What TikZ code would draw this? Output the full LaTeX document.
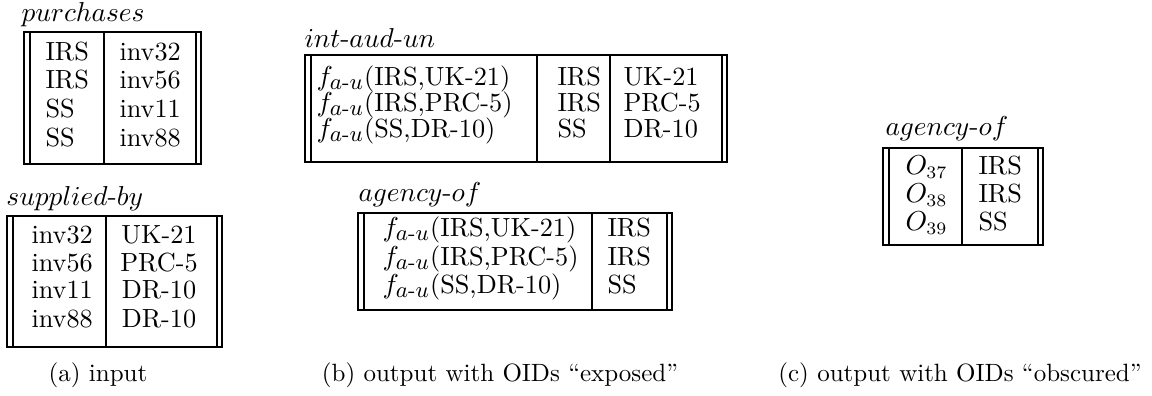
\documentclass[tikz,border=0pt]{standalone}
\usepackage{amsmath}
\tikzset{
  rel/.style={line width=0.8pt},
  cell/.style={anchor=base west, inner sep=0pt, font=\fontsize{10.5}{13}\selectfont},
  relname/.style={anchor=base west, inner sep=0pt, font=\fontsize{11.3}{13}\selectfont},
  caption/.style={anchor=base, inner sep=0pt, font=\fontsize{10}{12}\selectfont},
}
% frame of a relation: outer box with doubled left and right borders
% #1 left, #2 right, #3 top, #4 bottom
\newcommand{\relframe}[4]{%
  \draw[rel] (#1,#3) rectangle (#2,#4);
  \draw[rel] ({#1+6},#3) -- ({#1+6},#4) ({#2-5},#3) -- ({#2-5},#4);}
% the OID-building function f_{a-u}
\newcommand{\fau}{$f_{\mbox{\fontsize{8.6}{9}\selectfont$a$-$u$}}$}
\begin{document}
\begin{tikzpicture}[x=0.4pt,y=-0.4pt]
\useasboundingbox (0,0) rectangle (1152,395);

% ---------- (a) input ----------
\node[relname] (purName) at (21,21) {$purchases$};
\relframe{24}{201}{32}{164}
\draw[rel] (104,32) -- (104,164);
\node[cell] (p11) at (45,60)  {IRS};
\node[cell] (p21) at (45,88)  {IRS};
\node[cell] (p31) at (45,117) {SS};
\node[cell] (p41) at (45,146) {SS};
\node[cell] (p12) at (119,60)  {inv32};
\node[cell] (p22) at (119,88)  {inv56};
\node[cell] (p32) at (119,117) {inv11};
\node[cell] (p42) at (119,146) {inv88};

\node[relname] (supName) at (6,205) {$supplied\text{-}by$};
\relframe{7}{222}{216}{347}
\draw[rel] (106,216) -- (106,347);
\node[cell] (s11) at (31,243) {inv32};
\node[cell] (s21) at (31,271) {inv56};
\node[cell] (s31) at (31,298) {inv11};
\node[cell] (s41) at (31,327) {inv88};
\node[cell, anchor=base] (s12) at (159,243) {UK-21};
\node[cell, anchor=base] (s22) at (159,271) {PRC-5};
\node[cell, anchor=base] (s32) at (159,298) {DR-10};
\node[cell, anchor=base] (s42) at (159,327) {DR-10};

\node[caption] (capA) at (98,381) {(a) input};

% ---------- (b) output with exposed OIDs ----------
\node[relname] (iauName) at (304,47) {$int\text{-}aud\text{-}un$};
\relframe{305}{727}{55}{162}
\draw[rel] (537,55) -- (537,162) (610,55) -- (610,162);
\node[cell] (i11) at (316,85)    {\fau(IRS,UK-21)};
\node[cell] (i21) at (316,111.5) {\fau(IRS,PRC-5)};
\node[cell] (i31) at (316,137)   {\fau(SS,DR-10)};
\node[cell] (i12) at (557,85)    {IRS};
\node[cell] (i22) at (557,111.5) {IRS};
\node[cell] (i32) at (557,137)   {SS};
\node[cell] (i13) at (623,85)    {UK-21};
\node[cell] (i23) at (623,111.5) {PRC-5};
\node[cell] (i33) at (623,137)   {DR-10};

\node[relname] (agbName) at (358,201) {$agency\text{-}of$};
\relframe{358}{672}{213}{310}
\draw[rel] (592,213) -- (592,310);
\node[cell] (b11) at (382,236) {\fau(IRS,UK-21)};
\node[cell] (b21) at (382,265) {\fau(IRS,PRC-5)};
\node[cell] (b31) at (382,293) {\fau(SS,DR-10)};
\node[cell] (b12) at (607,236) {IRS};
\node[cell] (b22) at (607,265) {IRS};
\node[cell] (b32) at (607,293) {SS};

\node[caption] (capB) at (500,381) {(b) output with OIDs ``exposed''};

% ---------- (c) output with obscured OIDs ----------
\node[relname] (agcName) at (885,135) {$agency\text{-}of$};
\relframe{883}{1043}{148}{245}
\draw[rel] (962,148) -- (962,245);
\node[cell] (c11) at (905,174) {$O_{37}$};
\node[cell] (c21) at (905,202) {$O_{38}$};
\node[cell] (c31) at (905,230) {$O_{39}$};
\node[cell] (c12) at (978,174) {IRS};
\node[cell] (c22) at (978,202) {IRS};
\node[cell] (c32) at (978,230) {SS};

\node[caption] (capC) at (960,381) {(c) output with OIDs ``obscured''};
\end{tikzpicture}
\end{document}
